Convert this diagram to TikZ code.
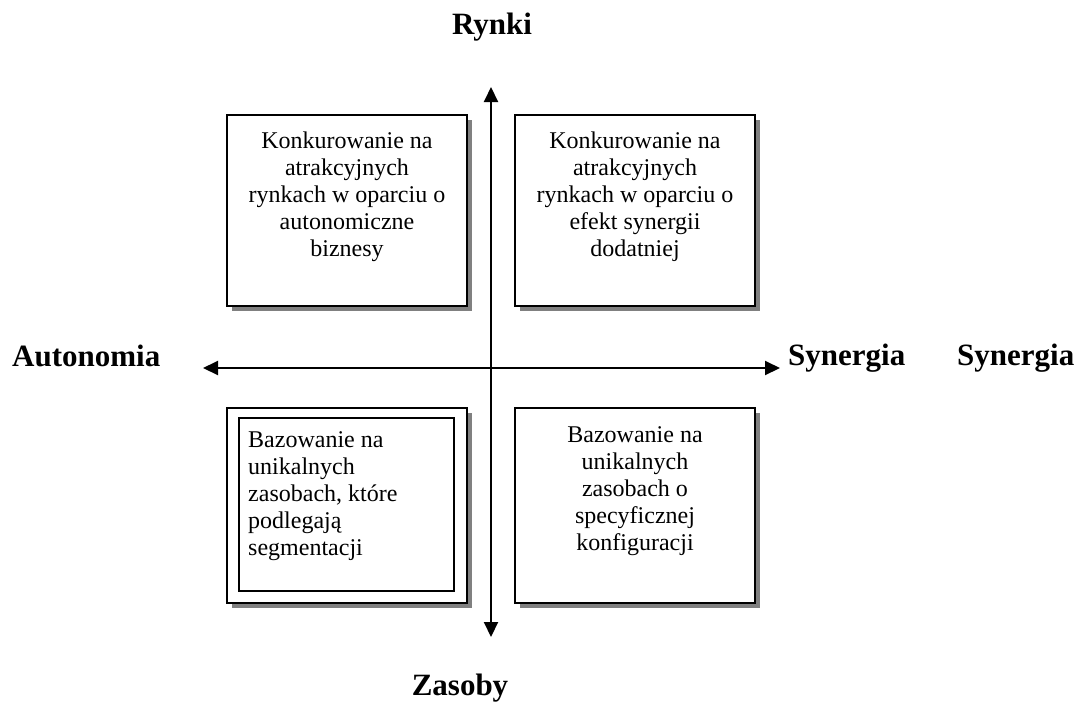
\documentclass[tikz,border=0pt]{standalone}
\usepackage{fontspec}
\setmainfont{Liberation Serif}
\usetikzlibrary{arrows.meta,shadows}
\begin{document}
\begin{tikzpicture}[x=1pt,y=-1pt,
  quad/.style={draw=black, line width=2pt, fill=white, inner sep=0pt,
    drop shadow={shadow xshift=5pt, shadow yshift=-5pt, fill=black!50, opacity=1}},
  inbox/.style={draw=black, line width=2pt, fill=white, inner sep=0pt},
  qtext/.style={inner sep=0pt, anchor=north, align=center, font=\fontsize{24}{27}\selectfont},
  axlabel/.style={inner sep=0pt, font=\fontsize{31}{31}\selectfont\bfseries},
  axis/.style={line width=2pt, {Triangle[length=15pt,width=14pt]}-{Triangle[length=15pt,width=14pt]}}
]
\useasboundingbox (0,0) rectangle (1091,702);

% quadrant boxes
\node[quad, minimum width=240pt, minimum height=191pt] (tl) at (347,210.5) {};
\node[quad, minimum width=240pt, minimum height=191pt] (tr) at (635,210.5) {};
\node[quad, minimum width=240pt, minimum height=195pt] (bl) at (347,505.5) {};
\node[quad, minimum width=240pt, minimum height=195pt] (br) at (635,505.5) {};
\node[inbox, minimum width=215pt, minimum height=173pt] (blin) at (346.5,504.5) {};

% texts
\node[qtext] (tltext) at (347,132) {Konkurowanie na\\atrakcyjnych\\rynkach w oparciu o\\autonomiczne\\biznesy};
\node[qtext] (trtext) at (635,132) {Konkurowanie na\\atrakcyjnych\\rynkach w oparciu o\\efekt synergii\\dodatniej};
\node[qtext] (brtext) at (635,426) {Bazowanie na\\unikalnych\\zasobach o\\specyficznej\\konfiguracji};
\node[qtext, anchor=north west, align=left] (bltext) at (248,431) {Bazowanie na\\unikalnych\\zasobach, które\\podlegają\\segmentacji};

% axes
\coordinate (top) at (491,87);
\coordinate (bottom) at (491,637);
\coordinate (left) at (203,368);
\coordinate (right) at (780,368);
\draw[axis] (top) -- (bottom);
\draw[axis] (left) -- (right);

% axis labels
\node[axlabel, anchor=base] (rynki) at (492,34) {Rynki};
\node[axlabel, anchor=base] (zasoby) at (460,695) {Zasoby};
\node[axlabel, anchor=base west] (auto) at (12,366) {Autonomia};
\node[axlabel, anchor=base west] (syn1) at (788,365) {Synergia};
\node[axlabel, anchor=base west] (syn2) at (957,365) {Synergia};
\end{tikzpicture}
\end{document}
